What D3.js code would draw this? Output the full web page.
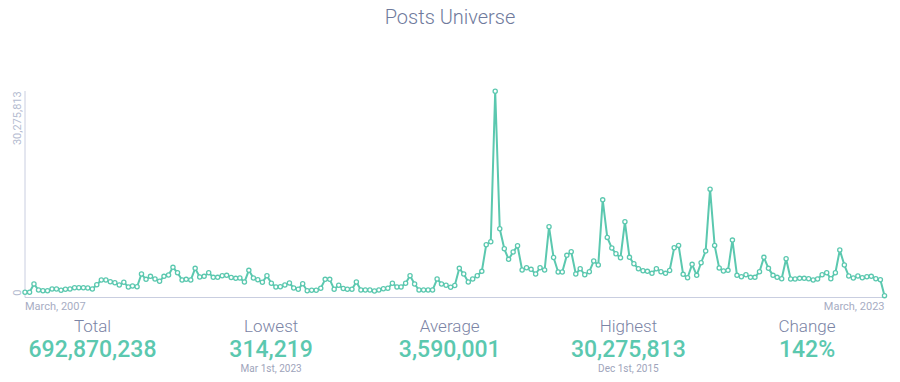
<!DOCTYPE html>
<html><head><meta charset="utf-8">
<script src="https://cdn.jsdelivr.net/npm/d3@7"></script>
<style>
html,body{margin:0;padding:0;background:#fff;}
svg{display:block;font-family:Roboto,"Noto Sans",sans-serif;}
</style></head>
<body><svg id="c" width="900" height="382"></svg>
<script>
const title = "Posts Universe";
const startMonth = "2007-03-01";
const endMonth = "2023-03-01";
const xTickLabels = ["March, 2007", "March, 2023"];
const yTickValues = [0, 30275813];
// monthly values, March 2007 .. March 2023
const values = [
 805000,805000,2020000,1142000,1039000,1039000,1288000,1288000,1098000,1244000,
 1288000,1479000,1479000,1479000,1435000,1288000,1918000,2606000,2606000,2357000,
 2211000,1874000,2269000,1581000,1728000,1625000,3484000,2708000,3148000,2752000,
 2416000,3148000,3338000,4465000,3675000,2606000,2708000,2606000,4319000,3045000,
 3148000,3675000,3001000,3001000,3235000,3294000,2972000,2855000,2899000,2313000,
 4026000,2899000,2650000,2269000,3235000,2123000,1581000,1625000,1874000,2167000,
 1435000,1244000,2064000,1039000,1098000,1098000,1391000,2708000,2708000,1244000,
 1830000,1362000,1244000,1244000,2313000,1142000,1142000,1142000,996000,1142000,
 1332000,1391000,2123000,1581000,1581000,2123000,3235000,2020000,1142000,1142000,
 1142000,1142000,2752000,2020000,1830000,1537000,1801000,4319000,3484000,2313000,
 2752000,3235000,3880000,7774000,8213000,30275813,10116000,7188000,5636000,6705000,
 7627000,4070000,4407000,4172000,3484000,4407000,4070000,10409000,5900000,3777000,
 3777000,6222000,6749000,3484000,4260000,3382000,3821000,5388000,4802000,14362000,
 8857000,7291000,6456000,5871000,11141000,5929000,4992000,4260000,3967000,3880000,
 3587000,4260000,3821000,3587000,3997000,7335000,7686000,3440000,2943000,4904000,
 3294000,5139000,6852000,15928000,7686000,4363000,3924000,4026000,8462000,3294000,
 3089000,3382000,3001000,3001000,3821000,5929000,4319000,3294000,3001000,2796000,
 5724000,2752000,2752000,2855000,2855000,2796000,2606000,2752000,3382000,3675000,
 2796000,3675000,6998000,4802000,3192000,2899000,3192000,2943000,3089000,3148000,
 2796000,2650000,314219
];
const statLabels = ["Total", "Lowest", "Average", "Highest", "Change"];
const statValues = ["692,870,238", "314,219", "3,590,001", "30,275,813", "142%"];
const statNotes = ["", "Mar 1st, 2023", "", "Dec 1st, 2015", ""];

const teal = "#5bc8af";
const svg = d3.select("#c");
const months = d3.utcMonth.range(new Date(startMonth), d3.utcMonth.offset(new Date(endMonth), 1));
const data = months.map((d, i) => ({date: d, value: values[i]}));

const x = d3.scaleUtc().domain([months[0], months[months.length - 1]]).range([25, 884.5]);
const y = d3.scaleLinear().domain([0, 30275813]).range([297.8, 91.3]);

svg.append("text").attr("x", 450).attr("y", 23.5).attr("text-anchor", "middle")
  .attr("font-size", 20).attr("font-weight", 300).attr("fill", "#6f7a9c").text(title);

// axes lines
svg.append("line").attr("x1", 25).attr("x2", 25).attr("y1", 91).attr("y2", 297.5)
  .attr("stroke", "#c9cee0").attr("stroke-width", 1);
svg.append("line").attr("x1", 25).attr("x2", 886).attr("y1", 297.5).attr("y2", 297.5)
  .attr("stroke", "#c9cee0").attr("stroke-width", 1);

// y labels (rotated)
svg.append("text").attr("transform", `translate(20.5,${y(yTickValues[1])}) rotate(-90)`)
  .attr("text-anchor", "end").attr("font-size", 11).attr("fill", "#b4bbd0")
  .text(d3.format(",")(yTickValues[1]));
svg.append("text").attr("transform", `translate(20.5,${y(yTickValues[0]) - 2}) rotate(-90)`)
  .attr("text-anchor", "start").attr("font-size", 11).attr("fill", "#b4bbd0")
  .text(d3.format(",")(yTickValues[0]));

// x labels
svg.append("text").attr("x", x(months[0])).attr("y", 309.5).attr("text-anchor", "start")
  .attr("font-size", 11).attr("fill", "#a7adc3").text(xTickLabels[0]);
svg.append("text").attr("x", x(months[months.length - 1])).attr("y", 309.5).attr("text-anchor", "end")
  .attr("font-size", 11).attr("fill", "#a7adc3").text(xTickLabels[1]);

const line = d3.line().x(d => x(d.date)).y(d => y(d.value));
svg.append("path").datum(data).attr("d", line).attr("fill", "none")
  .attr("stroke", teal).attr("stroke-width", 2).attr("stroke-linejoin", "round");
svg.append("g").selectAll("circle").data(data).join("circle")
  .attr("cx", d => x(d.date)).attr("cy", d => y(d.value)).attr("r", 2.1)
  .attr("fill", "#fff").attr("stroke", teal).attr("stroke-width", 1.3);

// stats
const sx = d3.scalePoint().domain(statLabels).range([92.5, 807]);
const g = svg.append("g").selectAll("g").data(statLabels).join("g")
  .attr("transform", d => `translate(${sx(d)},0)`);
g.append("text").attr("y", 332).attr("text-anchor", "middle").attr("font-size", 17)
  .attr("font-weight", 300).attr("fill", "#7b84a5").text(d => d);
g.append("text").attr("y", 357).attr("text-anchor", "middle").attr("font-size", 23)
  .attr("font-weight", 500).attr("fill", teal).text((d, i) => statValues[i]);
g.append("text").attr("y", 371.5).attr("text-anchor", "middle").attr("font-size", 10)
  .attr("fill", "#9ea4bb").text((d, i) => statNotes[i]);
</script></body></html>
